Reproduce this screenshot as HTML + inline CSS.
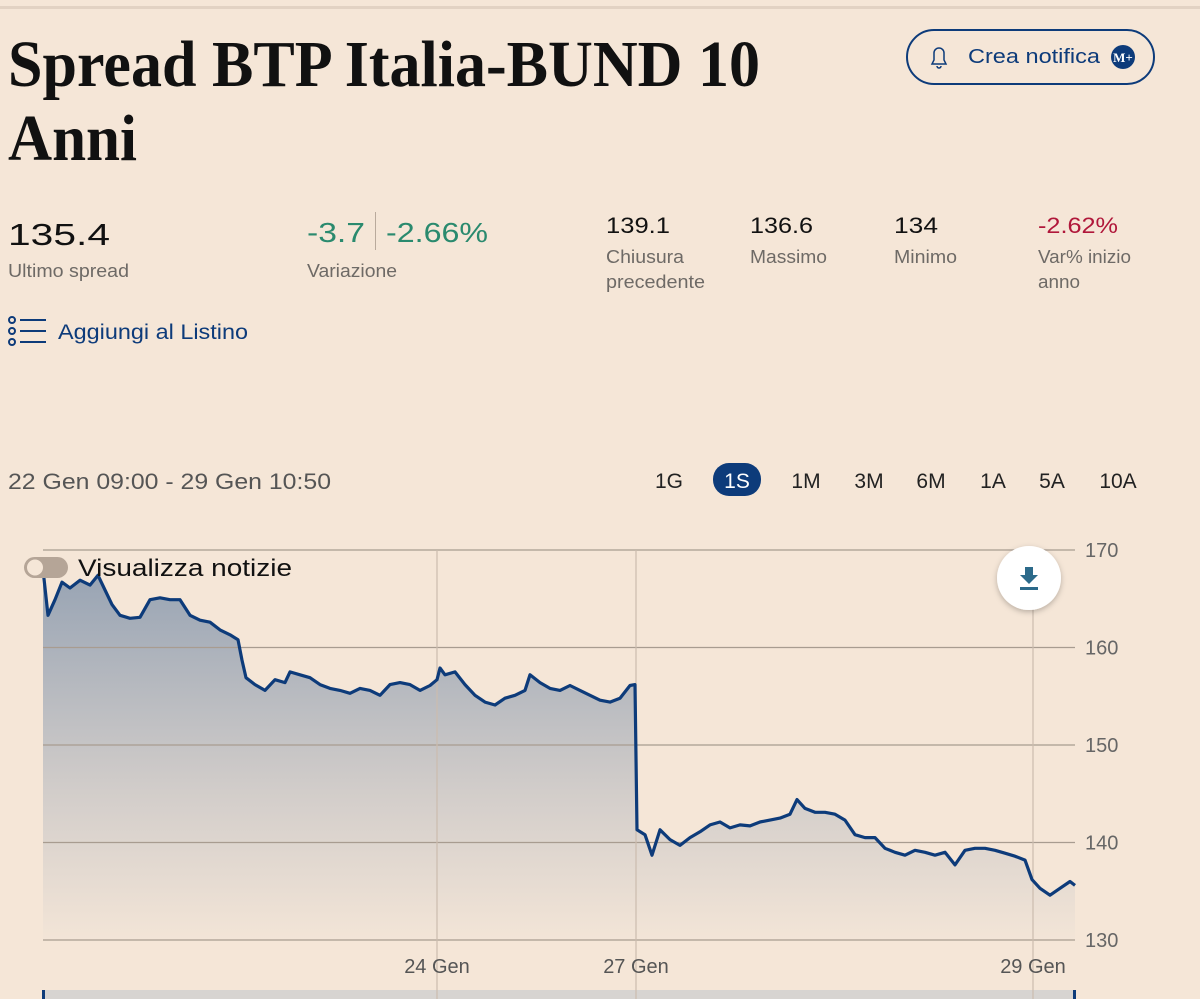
<!DOCTYPE html>
<html><head><meta charset="utf-8"><style>
html,body{margin:0;padding:0;background:#f5e6d7;width:1200px;height:999px;overflow:hidden}
svg{display:block}
.sans{font-family:"Liberation Sans",sans-serif}
.serif{font-family:"Liberation Serif",serif;font-weight:bold}
</style></head><body>
<svg id="page" width="1200" height="999" viewBox="0 0 1200 999">
<defs>
<linearGradient id="fillg" x1="0" y1="0" x2="0" y2="1">
<stop offset="0" stop-color="#97a3b3"/><stop offset="0.6" stop-color="#d2cdca"/><stop offset="1" stop-color="#f3e5d7"/>
</linearGradient>
<filter id="sh" x="-30%" y="-30%" width="160%" height="160%"><feDropShadow dx="0" dy="2" stdDeviation="3" flood-color="#000" flood-opacity="0.25"/></filter>
</defs>
<rect x="0" y="6" width="1200" height="3" fill="#e2d2c3"/>
<text class="serif" x="8" y="86" font-size="66" textLength="752" lengthAdjust="spacingAndGlyphs" fill="#111">Spread BTP Italia-BUND 10</text>
<text class="serif" x="8" y="160" font-size="66" textLength="129" lengthAdjust="spacingAndGlyphs" fill="#111">Anni</text>
<g>
<rect x="907" y="30" width="247" height="54" rx="27" fill="none" stroke="#0d3b7a" stroke-width="2"/>
<path d="M932 64 h14 l-2 -4 v-7 a5 5 0 0 0 -10 0 v7 z M937 66 a2 2 0 0 0 4 0" fill="none" stroke="#0d3b7a" stroke-width="1.5"/>
<text class="sans" x="968" y="63" font-size="20" textLength="132" lengthAdjust="spacingAndGlyphs" fill="#0d3b7a">Crea notifica</text>
<circle cx="1123" cy="57" r="12" fill="#0d3b7a"/>
<text class="serif" x="1123" y="62" font-size="13" text-anchor="middle" fill="#fff">M+</text>
</g>
<g>
<text class="sans" x="8" y="245" font-size="31" textLength="102" lengthAdjust="spacingAndGlyphs" fill="#111">135.4</text>
<text class="sans" x="8" y="277" font-size="18" textLength="121" lengthAdjust="spacingAndGlyphs" fill="#6e6a66">Ultimo spread</text>
<text class="sans" x="307" y="242" font-size="28" textLength="58" lengthAdjust="spacingAndGlyphs" fill="#2a8a6e">-3.7</text>
<rect x="375" y="212" width="1" height="38" fill="#b9aa9c"/>
<text class="sans" x="386" y="242" font-size="28" textLength="102" lengthAdjust="spacingAndGlyphs" fill="#2a8a6e">-2.66%</text>
<text class="sans" x="307" y="277" font-size="18" textLength="90" lengthAdjust="spacingAndGlyphs" fill="#6e6a66">Variazione</text>
<text class="sans" x="606" y="233" font-size="22" textLength="64" lengthAdjust="spacingAndGlyphs" fill="#111">139.1</text>
<text class="sans" x="606" y="263" font-size="18" textLength="78" lengthAdjust="spacingAndGlyphs" fill="#6e6a66">Chiusura</text>
<text class="sans" x="606" y="288" font-size="18" textLength="99" lengthAdjust="spacingAndGlyphs" fill="#6e6a66">precedente</text>
<text class="sans" x="750" y="233" font-size="22" textLength="63" lengthAdjust="spacingAndGlyphs" fill="#111">136.6</text>
<text class="sans" x="750" y="263" font-size="18" textLength="77" lengthAdjust="spacingAndGlyphs" fill="#6e6a66">Massimo</text>
<text class="sans" x="894" y="233" font-size="22" textLength="44" lengthAdjust="spacingAndGlyphs" fill="#111">134</text>
<text class="sans" x="894" y="263" font-size="18" textLength="63" lengthAdjust="spacingAndGlyphs" fill="#6e6a66">Minimo</text>
<text class="sans" x="1038" y="233" font-size="22" textLength="80" lengthAdjust="spacingAndGlyphs" fill="#b0173a">-2.62%</text>
<text class="sans" x="1038" y="263" font-size="18" textLength="93" lengthAdjust="spacingAndGlyphs" fill="#6e6a66">Var% inizio</text>
<text class="sans" x="1038" y="288" font-size="18" textLength="42" lengthAdjust="spacingAndGlyphs" fill="#6e6a66">anno</text>
</g>
<g>
<g fill="none" stroke="#0d3b7a" stroke-width="2">
<circle cx="12" cy="320" r="3"/><circle cx="12" cy="331" r="3"/><circle cx="12" cy="342" r="3"/>
<path d="M20 320 H46 M20 331 H46 M20 342 H46"/></g>
<text class="sans" x="58" y="339" font-size="21" textLength="190" lengthAdjust="spacingAndGlyphs" fill="#0d3b7a">Aggiungi al Listino</text>
</g>
<text class="sans" x="8" y="489" font-size="22" textLength="323" lengthAdjust="spacingAndGlyphs" fill="#555">22 Gen 09:00 - 29 Gen 10:50</text>
<g class="sans" font-size="21" fill="#222">
<text x="669" y="488" text-anchor="middle">1G</text>
<rect x="713" y="463" width="48" height="33" rx="16" fill="#0d3b7a"/>
<text x="737" y="488" text-anchor="middle" fill="#fff">1S</text>
<text x="806" y="488" text-anchor="middle">1M</text>
<text x="869" y="488" text-anchor="middle">3M</text>
<text x="931" y="488" text-anchor="middle">6M</text>
<text x="993" y="488" text-anchor="middle">1A</text>
<text x="1052" y="488" text-anchor="middle">5A</text>
<text x="1118" y="488" text-anchor="middle">10A</text>
</g>
<g id="chart"></g>
<g>
<rect x="24" y="557" width="44" height="21" rx="10.5" fill="#b5a597"/>
<circle cx="35" cy="567.5" r="9" fill="#f5e6d7" stroke="#b5a597" stroke-width="2"/>
<text class="sans" x="78" y="576" font-size="24" textLength="214" lengthAdjust="spacingAndGlyphs" fill="#111">Visualizza notizie</text>
</g>
<g>
<circle cx="1029" cy="578" r="32" fill="#fff" filter="url(#sh)"/>
<path d="M1025 567 h8 v8 h5 l-9 9 l-9 -9 h5 z" fill="#2c6a8a"/>
<rect x="1020" y="587" width="18" height="3" fill="#2c6a8a"/>
</g>
</svg>
<script>
const yTicks = [130, 140, 150, 160, 170];
const xTickLabels = ["24 Gen", "27 Gen", "29 Gen"];
const xTickTimes = [394, 593, 990];
const times = [0,5,12,19,27,37,47,55,62,69,77,87,97,107,117,127,137,147,157,167,177,187,195,199,203,212,222,232,242,247,257,267,277,287,297,307,317,327,337,347,357,367,377,387,394,397,402,412,422,432,442,452,462,472,482,487,497,507,517,527,537,547,557,567,577,587,592,594,602,609,617,627,637,647,657,667,677,687,697,707,717,727,737,747,754,762,772,782,792,802,812,822,832,842,852,862,872,882,892,902,912,922,932,942,952,962,972,982,989,997,1007,1017,1027,1032];
const values = [168.0,163.3,164.9,166.7,166.1,166.9,166.4,167.4,165.9,164.4,163.3,163.0,163.1,164.9,165.1,164.9,164.9,163.3,162.8,162.6,161.8,161.3,160.8,158.7,156.9,156.2,155.6,156.7,156.4,157.5,157.2,156.9,156.2,155.8,155.6,155.3,155.8,155.6,155.1,156.2,156.4,156.2,155.6,156.1,156.7,157.9,157.2,157.5,156.2,155.1,154.4,154.1,154.8,155.1,155.6,157.2,156.4,155.8,155.6,156.1,155.6,155.1,154.6,154.4,154.8,156.1,156.2,141.3,140.8,138.7,141.3,140.3,139.7,140.5,141.1,141.8,142.1,141.5,141.8,141.7,142.1,142.3,142.5,142.9,144.4,143.5,143.1,143.1,142.9,142.3,140.8,140.5,140.5,139.4,139.0,138.7,139.2,139.0,138.7,139.0,137.7,139.2,139.4,139.4,139.2,138.9,138.6,138.2,136.2,135.3,134.6,135.3,136.0,135.6];

const NS = "http://www.w3.org/2000/svg";
const chart = document.getElementById('chart');
const X0 = 43, X1 = 1075, Y0 = 940, Y1 = 550;
const tMax = 1032, vMin = 130, vMax = 170;
const xs = t => X0 + (t / tMax) * (X1 - X0);
const ys = v => Y0 - (v - vMin) / (vMax - vMin) * (Y0 - Y1);
function mk(tag, attrs) { const e = document.createElementNS(NS, tag); for (const k in attrs) e.setAttribute(k, attrs[k]); chart.appendChild(e); return e; }

const strip = mk('rect', {x: X0, y: 990, width: X1 - X0, height: 9, fill: '#d7d4d1'});


let d = `M${xs(times[0])},${Y0}`;
times.forEach((t, i) => { d += ` L${xs(t).toFixed(1)},${ys(values[i]).toFixed(1)}`; });
d += ` L${xs(times[times.length - 1])},${Y0} Z`;
const area = mk('path', {d: d, fill: 'url(#fillg)'});


yTicks.forEach(v => {
  const g = mk('line', {x1: X0, x2: X1, y1: ys(v), y2: ys(v), stroke: '#a89c90', 'stroke-width': 1.2});
  
  
  const tx = mk('text', {x: 1085, y: ys(v) + 7, 'font-size': 20, fill: '#666', 'font-family': 'Liberation Sans, sans-serif'});
  tx.textContent = v;
  
  
});
xTickTimes.forEach((t, i) => {
  const g = mk('line', {x1: xs(t), x2: xs(t), y1: Y1, y2: 999, stroke: '#cbbcae', 'stroke-width': 1.2});
  
  
  const tx = mk('text', {x: xs(t), y: 973, 'font-size': 20, fill: '#555', 'text-anchor': 'middle', 'font-family': 'Liberation Sans, sans-serif'});
  tx.textContent = xTickLabels[i];
  
  
});
let ld = '';
times.forEach((t, i) => { ld += (i ? ' L' : 'M') + xs(t).toFixed(1) + ',' + ys(values[i]).toFixed(1); });
const line = mk('path', {d: ld, fill: 'none', stroke: '#0d3b7a', 'stroke-width': 3.2, 'stroke-linejoin': 'round'});


const h1 = mk('rect', {x: X0 - 1, y: 990, width: 3, height: 9, fill: '#0d3b7a'});


const h2 = mk('rect', {x: X1 - 2, y: 990, width: 3, height: 9, fill: '#0d3b7a'});


</script>
</body></html>
